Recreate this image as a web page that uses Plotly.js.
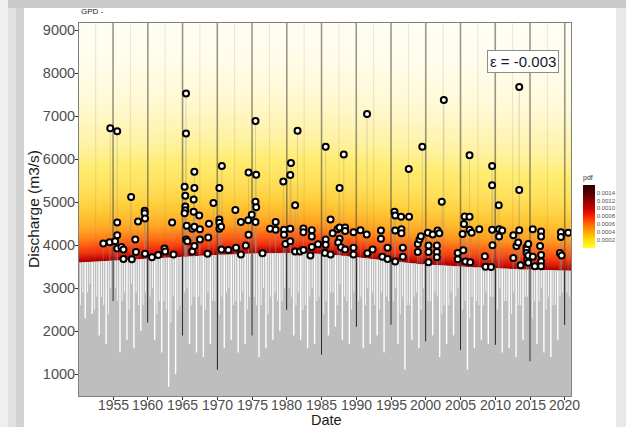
<!DOCTYPE html>
<html><head><meta charset="utf-8">
<script src="https://cdn.plot.ly/plotly-3.0.1.min.js"></script>
<style>html,body{margin:0;padding:0;background:#fff;}#chart{width:626px;height:427px;}</style>
</head><body><div id="chart"></div>
<script>
// ---------- data ----------
const tickYears = [1955,1960,1965,1970,1975,1980,1985,1990,1995,2000,2005,2010,2015,2020];
const yTicks = [1000,2000,3000,4000,5000,6000,7000,8000,9000];
const minorYears = [1952.5,1957.5,1962.5,1967.5,1972.5,1977.5,1982.5,1987.5,1992.5,1997.5,2002.5,2007.5,2012.5,2017.5];

const thrYears = [1950,1951,1952,1953,1954,1955,1956,1957,1958,1959,1960,1961,1962,1963,1964,1965,1966,1967,1968,1969,1970,1971,1972,1973,1974,1975,1976,1977,1978,1979,1980,1981,1982,1983,1984,1985,1986,1987,1988,1989,1990,1991,1992,1993,1994,1995,1996,1997,1998,1999,2000,2001,2002,2003,2004,2005,2006,2007,2008,2009,2010,2011,2012,2013,2014,2015,2016,2017,2018,2019,2020,2021];
const thrValues = [3595,3605,3615,3625,3635,3645,3654,3663,3672,3681,3690,3698,3706,3714,3722,3730,3739,3748,3757,3766,3775,3782,3789,3795,3800,3805,3810,3814,3818,3821,3822,3821,3818,3813,3807,3800,3788,3773,3755,3736,3715,3697,3678,3660,3640,3622,3606,3592,3578,3564,3551,3540,3530,3520,3511,3502,3493,3484,3475,3466,3458,3452,3446,3440,3435,3431,3427,3422,3418,3414,3410,3407];

// low-flow dips of the daily discharge: winter minimum and two smaller dips per year
const lowWinter = [2000,2300,2400,1900,1700,2700,1500,1800,1600,2000,2200,1800,1500,700,1000,1900,1700,1500,1400,1700,1100,1600,1800,1500,1700,1900,1400,1600,1800,2000,2500,1900,1800,1600,1700,1450,1900,2100,1800,1700,2100,1600,1700,1900,1500,2150,1700,1100,1800,1600,1760,1900,1400,1700,1900,1560,1100,1600,1800,1700,1680,1500,1600,1400,1800,1300,1700,1500,1400,1800,2150,2000];
const lowSpring = [2600,2900,2500,2800,2400,3000,2700,2500,2900,2600,2800,2400,2700,2200,2500,2900,2600,2800,2500,2700,2400,2900,2600,2700,2500,2800,2600,2400,2900,2700,3000,2600,2500,2800,2700,2400,2900,2600,2800,2500,2700,2600,2900,2500,2800,2700,2400,2600,2800,2500,2700,2900,2400,2600,2800,2500,2300,2700,2600,2800,2500,2700,2400,2600,2800,2300,2700,2500,2600,2800,2900,2700];
const lowAutumn = [2900,3100,2800,2600,3000,2700,2900,3100,2600,2900,3000,2700,2500,2800,2600,3000,2800,2600,2900,2700,2800,3000,2700,2900,2800,2600,3000,2800,2700,3000,2800,2900,2600,3000,2800,2700,2900,3100,2700,2900,2800,3000,2600,2900,2700,3000,2800,2600,2900,3000,2700,2800,2600,2900,3000,2700,2800,2600,2900,2800,3000,2700,2900,2600,2800,2700,3000,2800,2600,2900,2800,3000];

const peakYears = [1953.6,1954.5,1954.6,1955.3,1955.6,1955.6,1955.6,1955.6,1956.2,1956.5,
1956.5,1957.6,1957.7,1958.2,1958.3,1958.6,1959.55,1959.55,1959.6,1959.6,
1960.6,1961.5,1962.4,1962.5,1963.5,1963.7,1965.3,1965.4,1965.4,1965.4,
1965.3,1965.5,1965.5,1965.5,1965.6,1965.7,1966.4,1966.4,1966.6,1966.6,
1966.7,1966.7,1966.7,1966.7,1967.4,1967.5,1967.5,1968.7,1968.6,1968.8,
1969.45,1970.3,1970.3,1970.3,1970.3,1970.55,1970.6,1970.66,1971.6,1972.6,
1972.7,1973.4,1973.4,1974.1,1974.5,1974.45,1974.5,1974.96,1975.5,1975.5,
1975.6,1975.6,1975.5,1976.5,1977.6,1978.4,1978.4,1979.5,1979.6,1979.6,
1979.8,1980.5,1980.6,1980.5,1980.5,1981.2,1981.2,1981.55,1981.9,1982.4,
1982.4,1982.4,1983.6,1983.6,1983.6,1983.4,1984.5,1985.5,1985.6,1985.6,
1985.6,1986.3,1986.3,1986.6,1987.3,1987.6,1987.6,1987.6,1987.4,1987.8,
1988.2,1988.4,1988.4,1988.4,1989.6,1989.6,1989.6,1990.6,1991.5,1991.55,
1991.6,1992.35,1993.55,1993.55,1993.75,1994.5,1994.5,1995.5,1995.6,1995.6,
1995.6,1996.45,1996.5,1996.5,1996.7,1996.7,1997.55,1997.6,1998.85,1998.85,
1999.1,1999.3,1999.5,2000.3,2000.4,2000.4,2000.4,2001.0,2001.6,2001.6,
2001.6,2001.7,2001.95,2002.3,2002.6,2004.6,2004.6,2005.3,2005.4,2005.5,
2005.6,2005.7,2006.3,2006.3,2006.3,2006.4,2006.6,2007.7,2008.5,2008.6,
2009.4,2009.55,2009.55,2009.55,2009.6,2010.5,2010.55,2010.55,2011.0,2012.6,
2012.6,2013.05,2013.3,2013.45,2013.45,2013.45,2013.65,2014.5,2014.5,2014.5,
2014.6,2014.75,2014.75,2014.75,2015.4,2015.4,2015.7,2016.45,2016.6,2016.6,
2016.6,2016.6,2016.6,2019.3,2019.45,2019.45,2019.55,2020.5];
const peakValues = [4040,4070,6720,4090,6650,4530,4230,3920,3960,3900,
3680,5120,3670,4130,3840,4550,4800,4740,4620,3800,
3720,3770,3920,3850,4530,3780,5360,5150,4900,4810,
4740,7530,6600,4130,4450,4090,4380,3850,5060,4780,
5710,5330,4430,3980,4690,4370,4130,4180,3800,4500,
4980,5330,4600,4520,4380,4430,3900,5845,3890,4820,
3940,4540,3780,3990,5690,4580,4240,4710,6890,5010,
4880,5640,4540,3810,4380,4540,4360,5480,4360,4240,
4030,5630,5910,4380,4090,4930,3850,6660,3850,4390,
4300,3890,4350,4200,3960,3760,4020,3820,6290,4130,
4010,4600,3780,4280,4370,4410,5330,4150,4060,3950,
6110,4410,4330,3900,4300,3940,3780,4350,4250,7050,
3810,3900,4340,4150,3730,3940,3680,4780,4690,4340,
3620,4660,4370,4280,3940,3730,5775,4660,4030,3840,
4130,4210,6290,4290,3990,3840,3600,4250,3990,3840,
3720,4340,4280,5010,7380,3820,3670,4260,3880,4490,
4670,3620,6090,4660,4360,3600,4290,4370,3740,3500,
3490,5845,5395,4360,4000,4930,4370,4200,4340,4230,
3700,3980,4060,7680,5285,4350,3530,3960,3900,3820,
3680,4030,3760,3590,4370,3730,3510,3980,4320,4200,
3770,3620,3510,3820,4300,4190,3760,4290];

const gpdShape = -0.003;   // epsilon shown on the chart
const gpdScale = 800;      // scale
const pdfTicks = [0.0002,0.0004,0.0006,0.0008,0.0010,0.0012,0.0014];
const pdfMax = 0.00159;

// ---------- helpers ----------
const W = 626, H = 427, L = 79, R = 55, T = 23, B = 31;
const pw = W - L - R, ph = H - T - B;
const px = v => (v - L) / pw;
const py = v => (H - B - v) / ph;
const thrAt = yr => thrValues[Math.max(0, Math.min(thrValues.length - 1, Math.floor(yr) - thrYears[0]))];
const yTop = 9170, yBot = 490;
const font = 'Liberation Sans, Arial, sans-serif';

function gpdPdf(d) {
  if (d < 0) d = 0;
  return (1 / gpdScale) * Math.pow(1 + gpdShape * d / gpdScale, -1 / gpdShape - 1);
}

const hmY = [];
for (let v = 3350; v <= 9250; v += 50) hmY.push(v);
const hmZ = hmY.map(v => thrValues.map(t => gpdPdf(v - t)));

const heat = {
  type: 'heatmap', x: thrYears, y: hmY, z: hmZ, zsmooth: 'best',
  zmin: 0, zmax: pdfMax, showscale: false, hoverinfo: 'skip',
  colorscale: [[0,'#fffff8'],[0.0012,'#fffdf0'],[0.004,'#fffbe0'],[0.014,'#fff5bc'],[0.049,'#ffec70'],
    [0.17,'#ffcc38'],[0.32,'#ffa022'],[0.46,'#ff6414'],[0.6,'#f03010'],[0.75,'#b00000'],[0.85,'#760000'],[1,'#400000']]
};

const below = {
  type: 'scatter', mode: 'lines', x: thrYears, y: thrValues, fill: 'tozeroy',
  fillcolor: '#ffffff', line: {width: 0, color: '#ffffff'}, hoverinfo: 'skip', showlegend: false
};

const gLowX = [], gLowY = [];
tickYears.forEach(yr => { gLowX.push(yr, yr, null); gLowY.push(yBot - 100, thrAt(yr), null); });
const gridLow = {type:'scatter', mode:'lines', x: gLowX, y: gLowY, line:{color:'#2e2e2e', width:1.6}, hoverinfo:'skip', showlegend:false};

// daily discharge (grey), clipped at the threshold
const fx = [], fy = [];
thrYears.forEach((yr, i) => {
  const t = thrValues[i];
  fx.push(yr - 0.10, yr - 0.10, yr + 0.10, yr + 0.10);
  fy.push(t, lowWinter[i], lowWinter[i], t);
  fx.push(yr + 0.27, yr + 0.27, yr + 0.38, yr + 0.38);
  fy.push(t, lowSpring[i], lowSpring[i], t);
  fx.push(yr + 0.60, yr + 0.60, yr + 0.71, yr + 0.71);
  fy.push(t, lowAutumn[i], lowAutumn[i], t);
});
const flow = {type:'scatter', mode:'lines', x: fx, y: fy, fill:'tozeroy', fillcolor:'#bebebe',
  line:{width:0, color:'#bebebe'}, hoverinfo:'skip', showlegend:false};

const gUpX = [], gUpY = [];
tickYears.forEach(yr => { gUpX.push(yr, yr, null); gUpY.push(thrAt(yr), yTop + 100, null); });
const gridUp = {type:'scatter', mode:'lines', x: gUpX, y: gUpY, line:{color:'rgba(70,70,60,0.55)', width:1.6}, hoverinfo:'skip', showlegend:false};
const mUpX = [], mUpY = [];
minorYears.forEach(yr => { mUpX.push(yr, yr, null); mUpY.push(thrAt(yr), yTop + 100, null); });
const gridMinor = {type:'scatter', mode:'lines', x: mUpX, y: mUpY, line:{color:'rgba(120,120,110,0.18)', width:1}, hoverinfo:'skip', showlegend:false};

const sX = [], sY = [];
peakYears.forEach((yr, i) => { sX.push(yr, yr, null); sY.push(thrAt(yr), peakValues[i], null); });
const spikes = {type:'scatter', mode:'lines', x: sX, y: sY, line:{color:'rgba(150,150,140,0.35)', width:1}, hoverinfo:'skip', showlegend:false};

const peaks = {type:'scatter', mode:'markers', x: peakYears, y: peakValues,
  marker:{symbol:'circle', size:6, color:'#ffffff', line:{color:'#000000', width:2}}, showlegend:false};

const cbar = {type:'scatter', mode:'markers', x:[1900], y:[0], hoverinfo:'skip', showlegend:false,
  marker:{color:[0], cmin:0, cmax:pdfMax, showscale:true, size:1,
    colorscale:[[0,'#ffff30'],[0.126,'#ffe000'],[0.25,'#ffa800'],[0.377,'#ff6a00'],[0.503,'#ff2000'],
      [0.629,'#c80000'],[0.755,'#900000'],[0.88,'#4a0000'],[1,'#300000']],
    colorbar:{x: px(583), xanchor:'left', y: py(210), yanchor:'middle', thickness:12, thicknessmode:'pixels',
      len:76, lenmode:'pixels', xpad:0, ypad:0, outlinewidth:0, ticks:'', tickvals: pdfTicks,
      ticktext: pdfTicks.map(v => v.toFixed(4)), tickfont:{size:6, color:'#555555', family:font},
      title:{text:'pdf', side:'top', font:{size:7, color:'#333333', family:font}}}}
};

const frame = [
  [0, 0, 626, 8, '#c9c9c9'],
  [0, 0, 8, 427, '#f0f0f0'],
  [8, 8, 16, 427, '#e2e2e2'],
  [16, 8, 24, 427, '#d3d3d3'],
  [616, 8, 626, 427, '#e8e8e8']
].map(r => ({type:'rect', xref:'paper', yref:'paper', layer:'below',
  x0: px(r[0]), x1: px(r[2]), y0: py(r[3]), y1: py(r[1]), fillcolor: r[4], line:{width:0}}));

const xLabels = tickYears.map(yr => ({xref:'x', yref:'paper', x: yr, y: py(405.5), xanchor:'center', yanchor:'middle',
  showarrow:false, text: String(yr), font:{size:14, color:'#4d4d4d', family:font}}));

const layout = {
  width: W, height: H, margin:{l:L, r:R, t:T, b:B, pad:0},
  paper_bgcolor:'#ffffff', plot_bgcolor:'#ffffff', showlegend:false,
  font:{family:font},
  xaxis:{range:[1950.1, 2020.9], tickvals: tickYears, showticklabels:false, showgrid:false, zeroline:false,
    ticks:'outside', ticklen:3, tickcolor:'#333333', tickwidth:1,
    showline:true, mirror:true, linecolor:'#7f7f7f', linewidth:1},
  yaxis:{range:[yBot, yTop], tickvals: yTicks, showgrid:false, zeroline:false,
    ticks:'outside', ticklen:3, tickcolor:'#333333', tickwidth:1, ticklabelstandoff:-3,
    showline:true, mirror:true, linecolor:'#7f7f7f', linewidth:1,
    tickfont:{size:14.5, color:'#4d4d4d', family:font}},
  shapes: frame,
  annotations: xLabels.concat([
    {xref:'paper', yref:'paper', x:0, y:py(12), xanchor:'left', yanchor:'middle', showarrow:false,
      text:'GPD -', font:{size:8, color:'#222222', family:font}},
    {xref:'paper', yref:'paper', x:px(523), y:py(62), xanchor:'center', yanchor:'middle', showarrow:false,
      text:'ε = -0.003', font:{size:15, color:'#1a1a1a', family:font},
      bgcolor:'#ffffff', bordercolor:'#8c8c8c', borderwidth:1, borderpad:2},
    {xref:'paper', yref:'paper', x:px(326), y:py(420), xanchor:'center', yanchor:'middle', showarrow:false,
      text:'Date', font:{size:14.5, color:'#1a1a1a', family:font}},
    {xref:'paper', yref:'paper', x:px(33), y:py(209), xanchor:'center', yanchor:'middle', showarrow:false,
      textangle:-90, text:'Discharge (m3/s)', font:{size:15.5, color:'#1a1a1a', family:font}}
  ])
};

Plotly.newPlot('chart', [heat, below, gridLow, flow, gridMinor, gridUp, spikes, peaks, cbar], layout, {displayModeBar:false, staticPlot:true});
</script>
</body></html>
